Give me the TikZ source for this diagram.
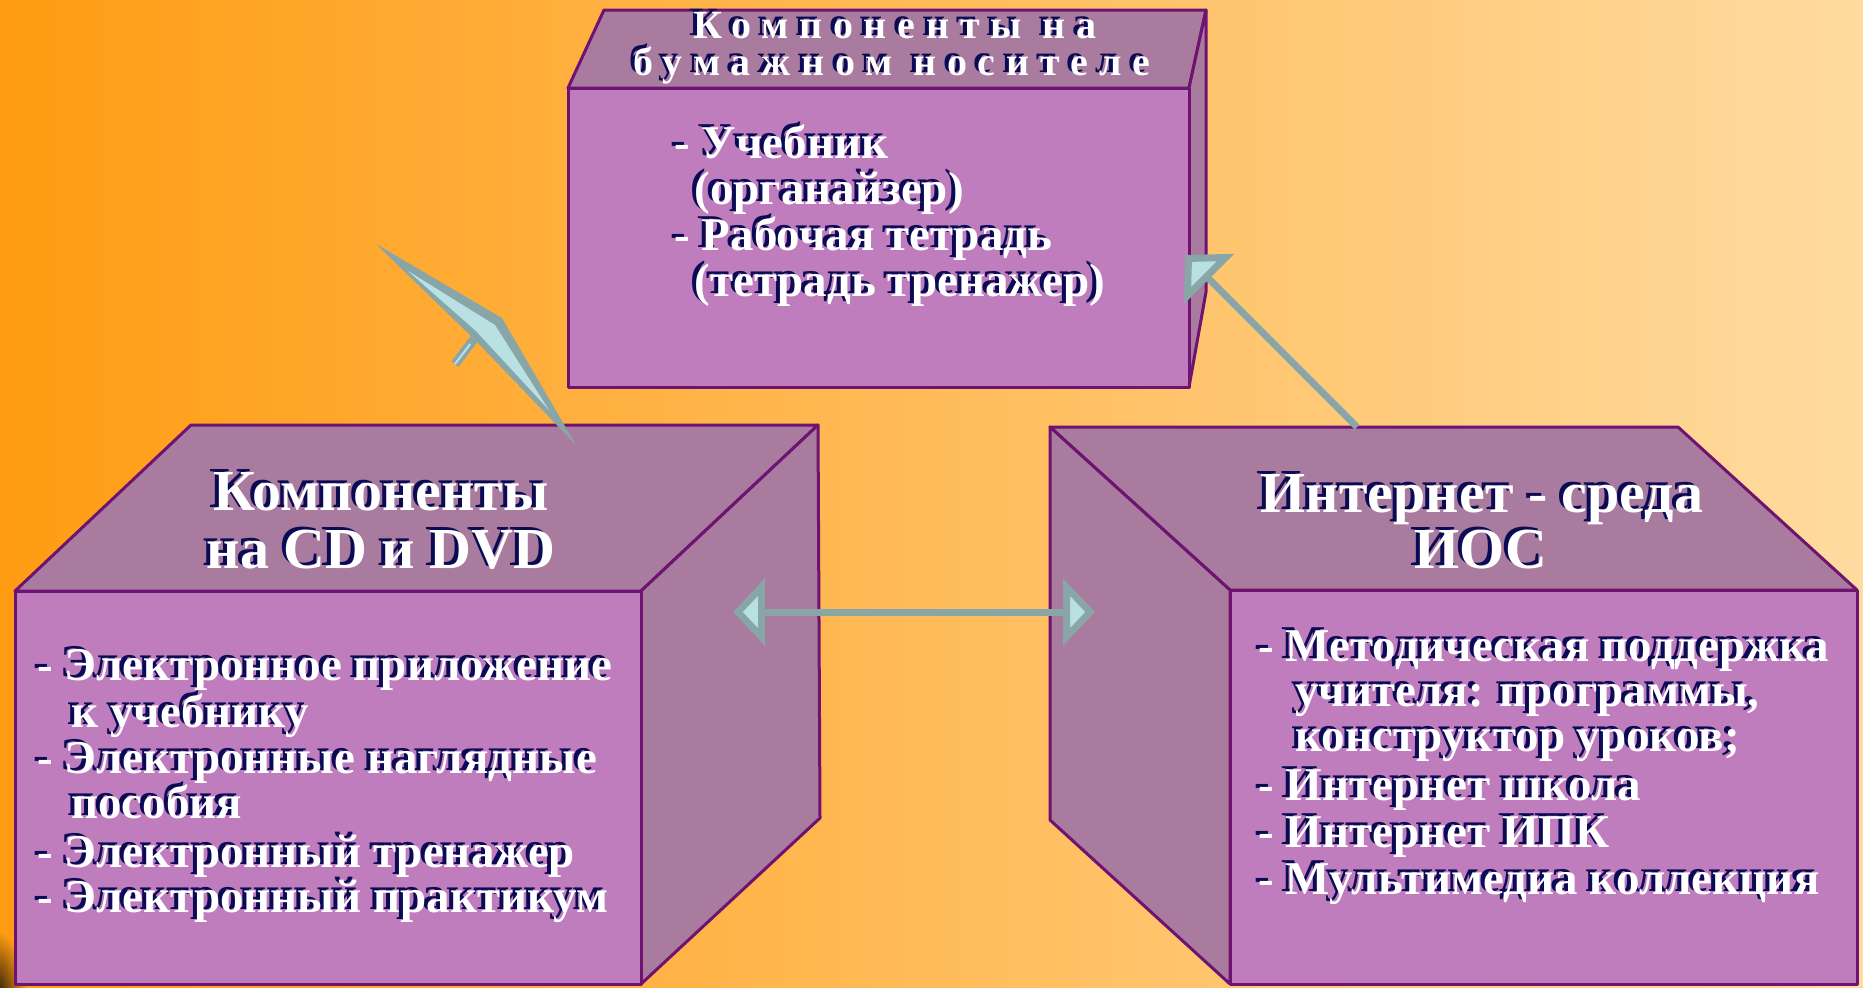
\documentclass[tikz,border=0pt]{standalone}
\usepackage{fontspec}
\setmainfont{Liberation Serif}
\usetikzlibrary{arrows.meta,calc}
\definecolor{bgL}{HTML}{FF9C12}
\definecolor{bgR}{HTML}{FFDBA0}
\definecolor{faceF}{HTML}{BF7DBD}
\definecolor{faceS}{HTML}{A97B9E}
\definecolor{edgec}{HTML}{6E1372}
\definecolor{arrFill}{HTML}{B9E0E3}
\definecolor{arrLine}{HTML}{88A6A8}
\definecolor{navyc}{HTML}{0B0B55}
\tikzset{myhead/.tip={Triangle[length=16pt,width=33pt,fill=arrFill]}}
\newcommand{\shadowed}[1]{\makebox[0pt][l]{\kern-2pt\raisebox{1.5pt}{\textcolor{navyc}{#1}}}#1}
\newcommand{\shtext}[5]{%
  \node[#2, text=white, anchor=#3] (#1) at (#4) {\shadowed{#5}};
}
\begin{document}
\begin{tikzpicture}[x=0.5pt,y=-0.5pt,
  face/.style={draw=edgec, line width=1.5pt, line join=round},
  frontface/.style={face, fill=faceF},
  sideface/.style={face, fill=faceS},
  ttl/.style={font=\fontsize{29}{33}\selectfont\bfseries, inner sep=0pt},
  toptl/.style={font=\fontsize{20}{23}\selectfont\bfseries\addfontfeature{LetterSpace=27}, inner sep=0pt},
  body/.style={font=\fontsize{23.5}{26}\selectfont\bfseries, inner sep=0pt},
  conn/.style={draw=arrLine, line width=3.5pt}
]
\useasboundingbox (0,0) rectangle (1863,987);
\shade[left color=bgL, right color=bgR] (0,0) rectangle (1863,987);
\shade[inner color=black!90!brown, outer color=bgL] (-5,1000) ellipse (32 and 70);

% top box
\path[sideface] (604,10) -- (1206,10) -- (1189,88) -- (568,88) -- cycle;
\path[sideface] (1189,88) -- (1206,10) -- (1206,292) -- (1189,387) -- cycle;
\path[frontface] (568,88) rectangle (1189,387);

% left box
\path[sideface] (191,425) -- (818,425) -- (641,591) -- (15,591) -- cycle;
\path[sideface] (641,591) -- (818,425) -- (820,818) -- (641,984) -- cycle;
\path[frontface] (15,591) rectangle (641,984);

% right box
\path[sideface] (1050,427) -- (1678,427) -- (1857,590) -- (1230,590) -- cycle;
\path[sideface] (1050,427) -- (1230,590) -- (1230,984) -- (1050,820) -- cycle;
\path[frontface] (1230,590) rectangle (1857,984);

% connectors
\coordinate (hL) at (733,612);
\coordinate (hR) at (1095,612);
\draw[conn, {myhead}-{myhead}] (hL) -- (hR);
\coordinate (dS) at (1357,427);
\coordinate (dT) at (1185,255);
\draw[conn, -{Triangle[length=17pt,width=35pt,fill=arrFill]}] (dS) -- (dT);
% distorted arrow from the CD/DVD box
\coordinate (wT) at (376,244);
\coordinate (wA) at (502,318);
\coordinate (wE) at (576,445);
\coordinate (wB) at (474,339);
\coordinate (wS) at (455,364);
\coordinate (wT2) at (408,271);
\coordinate (wA2) at (495,325);
\coordinate (wE2) at (549,410);
\coordinate (wB2) at (476,331);
\draw[arrLine, line width=4.5pt, line cap=butt] (wB) -- (wS);
\draw[arrFill, line width=1pt] ($(wB)!0.2!(wS)$) -- (wS);
\fill[arrLine] (wT) -- (wA) -- (wE) -- (wB) -- cycle;
\fill[arrFill] (wT2) -- (wA2) -- (wE2) -- (wB2) -- cycle;

% titles
\shtext{tt1}{toptl}{base}{895,38}{Компоненты на}
\shtext{tt2}{toptl}{base}{892,75}{бумажном носителе}
\shtext{lt1}{ttl}{base}{381,510}{Компоненты}
\shtext{lt2}{ttl}{base}{381,568}{на CD и DVD}
\shtext{rt1}{ttl}{base}{1482,512}{Интернет - среда}
\shtext{rt2}{ttl}{base}{1481,568}{ИОС}

% top body
\shtext{tb1}{body}{base west}{674,158}{- Учебник}
\shtext{tb2}{body}{base west}{694,204}{(органайзер)}
\shtext{tb3}{body}{base west}{674,250}{- Рабочая тетрадь}
\shtext{tb4}{body}{base west}{694,296}{(тетрадь тренажер)}

% left body
\shtext{lb1}{body}{base west}{37,680}{- Электронное приложение}
\shtext{lb2}{body}{base west}{71,727}{к учебнику}
\shtext{lb3}{body}{base west}{37,773}{- Электронные наглядные}
\shtext{lb4}{body}{base west}{71,818}{пособия}
\shtext{lb5}{body}{base west}{37,867}{- Электронный тренажер}
\shtext{lb6}{body}{base west}{37,912}{- Электронный практикум}

% right body
\shtext{rb1}{body}{base west}{1258,661}{- Методическая поддержка}
\shtext{rb2}{body}{base west}{1295,706}{учителя: программы,}
\shtext{rb3}{body}{base west}{1295,751}{конструктор уроков;}
\shtext{rb4}{body}{base west}{1258,800}{- Интернет школа}
\shtext{rb5}{body}{base west}{1258,847}{- Интернет ИПК}
\shtext{rb6}{body}{base west}{1258,894}{- Мультимедиа коллекция}
\end{tikzpicture}
\end{document}
